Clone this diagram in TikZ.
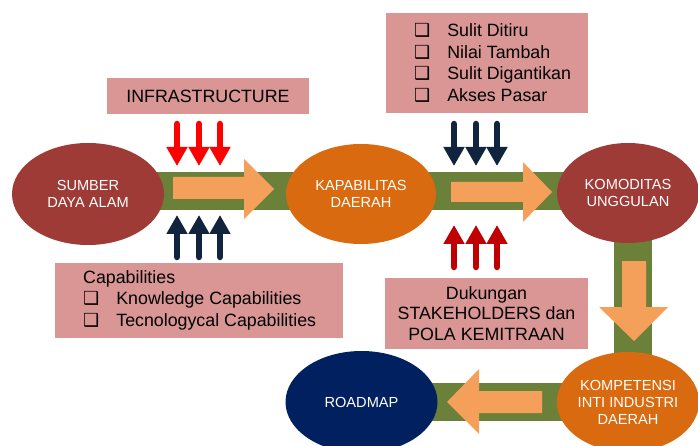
\documentclass[tikz,border=0pt]{standalone}
\usepackage{fontspec}
\setmainfont{Liberation Sans}
\newfontfamily\dejavu{DejaVu Sans}
\usetikzlibrary{shapes.geometric,arrows.meta,backgrounds}
\definecolor{brick}{HTML}{9E3B37}
\definecolor{orangec}{HTML}{DA6A0F}
\definecolor{navyc}{HTML}{002060}
\definecolor{bandc}{HTML}{6B8139}
\definecolor{arrowc}{HTML}{F5A05A}
\definecolor{pinkc}{HTML}{D99694}
\definecolor{redc}{HTML}{FF0000}
\definecolor{darkredc}{HTML}{C00000}
\definecolor{darknavy}{HTML}{10243E}
\newcommand\qb{{\dejavu\fontsize{18}{18}\selectfont ❑}}
\begin{document}
\begin{tikzpicture}[x=1pt,y=-1pt,
  oval/.style={ellipse, inner sep=0pt, text=white, align=center, font=\fontsize{14.6}{17}\selectfont},
  pinkbox/.style={rectangle, fill=pinkc, inner sep=0pt, align=center, font=\fontsize{17.8}{21}\selectfont},
  listtext/.style={anchor=west, inner sep=0pt, align=left, font=\fontsize{17.8}{21.6}\selectfont},
  band/.style={line width=38pt, draw=bandc},
  blockarrow/.style={fill=arrowc},
  thinarrow/.style={line width=6.5pt, line cap=round, -{Triangle[width=20pt,length=19pt]}}
]
\useasboundingbox (0,0) rectangle (698,446);
\clip (0,0) rectangle (698,446);

% ellipses
\node[oval, fill=brick, minimum width=152pt, minimum height=102pt] (sda) at (88,194) {SUMBER\\DAYA ALAM};
\node[oval, fill=orangec, minimum width=150pt, minimum height=100pt] (kap) at (361,194) {KAPABILITAS\\DAERAH};
\node[oval, fill=brick, minimum width=142pt, minimum height=100pt] (kom) at (628,193) {KOMODITAS\\UNGGULAN};
\node[oval, fill=orangec, minimum width=142pt, minimum height=100pt] (kip) at (628,402) {KOMPETENSI\\INTI INDUSTRI\\DAERAH};
\node[oval, fill=navyc, minimum width=152pt, minimum height=102pt] (rm) at (361.5,402) {ROADMAP};

% green bands
\begin{scope}[on background layer]
\draw[band] (sda.center |- 0,191) -- (kap.center |- 0,191);
\draw[band] (kap.center |- 0,191) -- (kom.center |- 0,191);
\draw[band] (kom.center -| 633,0) -- (kip.center -| 633,0);
\draw[band] (kip.center) -- (rm.center);
\end{scope}

% block arrows
\fill[blockarrow] (173,177) -- (244,177) -- (244,159) -- (274,189) -- (244,219) -- (244,199) -- (173,199) -- cycle;
\fill[blockarrow] (451,182) -- (523,182) -- (523,162) -- (552,192) -- (523,222) -- (523,202) -- (451,202) -- cycle;
\fill[blockarrow] (622,261) -- (646,261) -- (646,307) -- (668,307) -- (634,341) -- (599,307) -- (622,307) -- cycle;
\fill[blockarrow] (542,391) -- (542,413) -- (479,413) -- (479,434) -- (447,402) -- (479,369) -- (479,391) -- cycle;

% boxes
\node[pinkbox, minimum width=202pt, minimum height=36pt] (infra) at (208,96) {INFRASTRUCTURE};
\node[pinkbox, minimum width=202pt, minimum height=100pt] (ciri) at (487,63) {};
\node[listtext] (ciritext) at (414,63) {\qb\hspace{17pt}Sulit Ditiru\\\qb\hspace{17pt}Nilai Tambah\\\qb\hspace{17pt}Sulit Digantikan\\\qb\hspace{17pt}Akses Pasar};
\node[pinkbox, minimum width=288pt, minimum height=75pt] (cap) at (199,300.5) {};
\node[listtext] (captext) at (83,300) {Capabilities\\\qb\hspace{17pt}Knowledge Capabilities\\\qb\hspace{17pt}Tecnologycal Capabilities};
\node[pinkbox, minimum width=203pt, minimum height=71pt, font=\fontsize{17.8}{20.5}\selectfont] (duk) at (486.5,313.5) {Dukungan\\STAKEHOLDERS dan\\POLA KEMITRAAN};

% thin arrows
\foreach \x in {177,199,220} {
  \draw[thinarrow, color=redc] (\x,124) -- (\x,166);
  \draw[thinarrow, color=darknavy] (\x,257) -- (\x,215);
}
\foreach \x in {454,476,497} {
  \draw[thinarrow, color=darknavy] (\x,124) -- (\x,166);
  \draw[thinarrow, color=darkredc] (\x,267) -- (\x,225);
}
\end{tikzpicture}
\end{document}
